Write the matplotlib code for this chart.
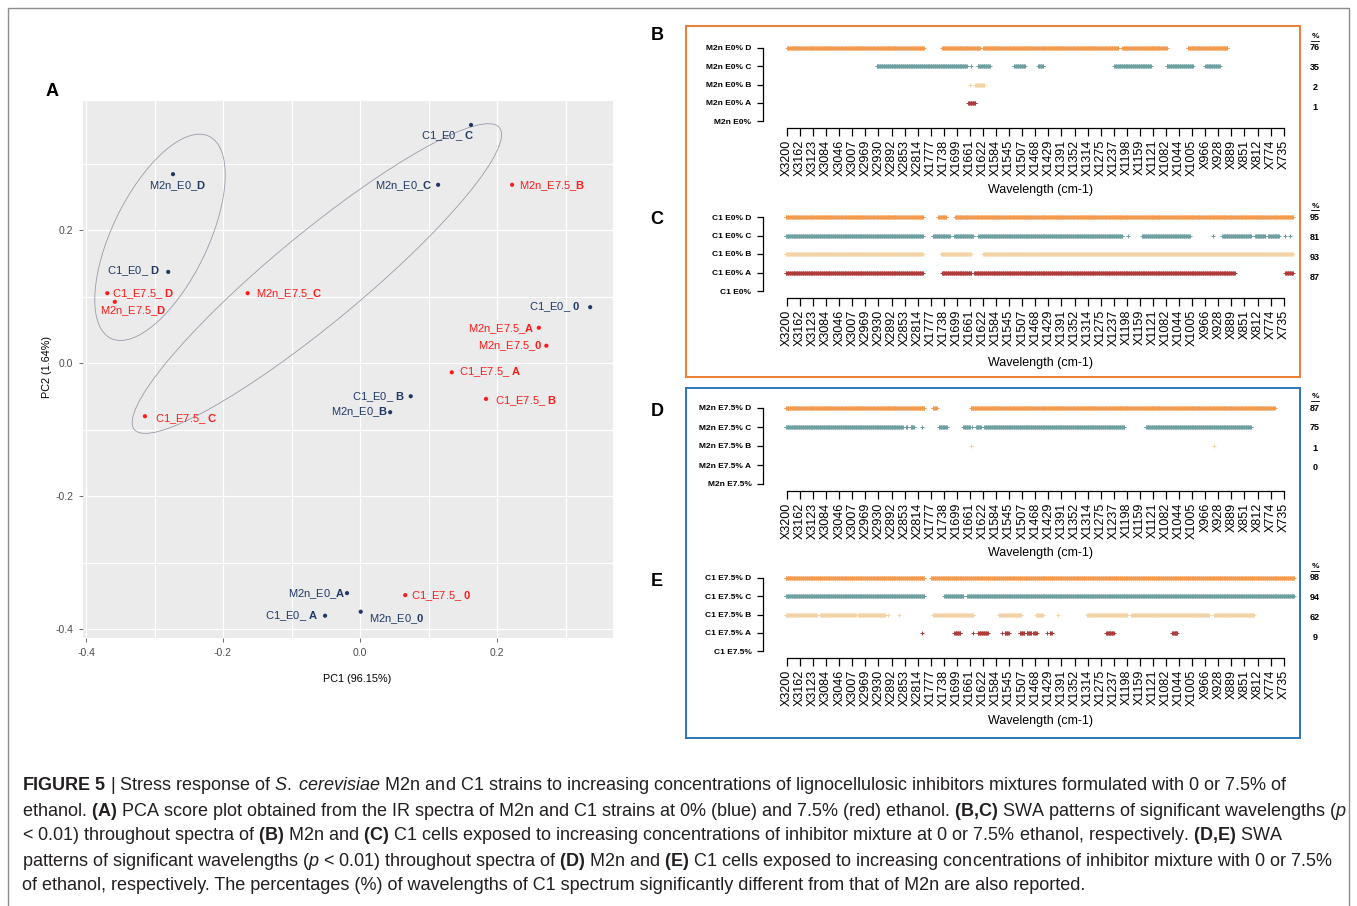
import numpy as np
import matplotlib.pyplot as plt
from matplotlib.patches import Ellipse, Rectangle
from matplotlib.lines import Line2D

plt.rcParams['font.family'] = ['Liberation Sans', 'DejaVu Sans']
plt.rcParams['mathtext.fontset'] = 'custom'
plt.rcParams['mathtext.rm'] = 'Liberation Sans'
plt.rcParams['mathtext.it'] = 'Liberation Sans:italic'
plt.rcParams['mathtext.bf'] = 'Liberation Sans:bold'

W, H = 1357, 906

# ---------------------------------------------------------------------------
# Panel A - PCA scores
# ---------------------------------------------------------------------------
pca_prefix = ['C1_E0_ ', 'M2n_E0_', 'M2n_E0_', 'M2n_E7.5_', 'C1_E0_ ',
              'C1_E7.5_ ', 'M2n_E7.5_', 'M2n_E7.5_', 'C1_E0_ ', 'M2n_E7.5_',
              'M2n_E7.5_', 'C1_E7.5_ ', 'C1_E0_ ', 'C1_E7.5_ ', 'M2n_E0_',
              'C1_E7.5_ ', 'M2n_E0_', 'C1_E7.5_ ', 'C1_E0_ ', 'M2n_E0_']
pca_level = ['C', 'D', 'C', 'B', 'D', 'D', 'D', 'C', '0', 'A',
             '0', 'A', 'B', 'B', 'B', 'C', 'A', '0', 'A', '0']
pca_ethanol = [0, 0, 0, 7.5, 0, 7.5, 7.5, 7.5, 0, 7.5,
               7.5, 7.5, 0, 7.5, 0, 7.5, 0, 7.5, 0, 0]
pc1 = [0.162, -0.273, 0.114, 0.222, -0.280, -0.369, -0.358, -0.164, 0.336, 0.261,
       0.272, 0.134, 0.074, 0.184, 0.044, -0.314, -0.019, 0.066, -0.051, 0.001]
pc2 = [0.358, 0.284, 0.268, 0.268, 0.137, 0.105, 0.092, 0.105, 0.084, 0.053,
       0.026, -0.014, -0.050, -0.054, -0.074, -0.080, -0.346, -0.349, -0.380, -0.374]

# label placement (pixels from the point, up is positive, alignment)
lab_dx = [3, 5, -6, 7, -8, 5, 18, 8, -10, -4, -4, 7, -6, 9, -2, 10, -2, 6, -7, 8]
lab_dy = [-11, -12, -1, -1, 1, -1, -9, -1, 0, -1, 0, 0, -1, -2, 0, -3, -1, -1, 0, -7]
lab_ha = ['right', 'center', 'right', 'left', 'right', 'left', 'center', 'left',
          'right', 'right', 'right', 'left', 'right', 'left', 'right', 'left',
          'right', 'left', 'right', 'left']

# confidence ellipses
ell_cx = [-0.292, -0.063]
ell_cy = [0.189, 0.127]
ell_w = [0.336, 0.700]
ell_h = [0.140, 0.133]
ell_angle = [65, 40.5]

# ---------------------------------------------------------------------------
# Panels B-E - SWA significant wavelengths (segments in tick units, X3200 = 0)
# ---------------------------------------------------------------------------
wl_ticks = ['X3200', 'X3162', 'X3123', 'X3084', 'X3046', 'X3007', 'X2969', 'X2930',
            'X2892', 'X2853', 'X2814', 'X1777', 'X1738', 'X1699', 'X1661', 'X1622',
            'X1584', 'X1545', 'X1507', 'X1468', 'X1429', 'X1391', 'X1352', 'X1314',
            'X1275', 'X1237', 'X1198', 'X1159', 'X1121', 'X1082', 'X1044', 'X1005',
            'X966', 'X928', 'X889', 'X851', 'X812', 'X774', 'X735']
vars_per_tick = 20

B_D = [(0.0, 10.45), (11.87, 14.74), (15.0, 25.37), (25.63, 29.04), (30.67, 33.69)]
B_C = [(6.84, 13.76), (14.1, 14.1), (14.58, 15.49), (17.37, 18.2), (19.18, 19.6),
       (25.04, 27.85), (29.04, 31.05), (32.0, 33.1)]
B_B = [(14.0, 14.0), (14.4, 15.1)]
B_A = [(13.84, 14.4)]
B_pct = [76, 35, 2, 1]

C_D = [(-0.1, 10.42), (11.53, 12.19), (12.83, 38.7)]
C_C = [(-0.1, 10.42), (11.15, 12.44), (12.78, 14.26), (14.65, 25.66), (26.1, 26.1),
       (27.16, 30.79), (32.58, 32.58), (33.31, 35.5), (35.8, 36.6), (36.8, 37.65),
       (38.1, 38.1), (38.5, 38.5)]
C_B = [(-0.1, 10.42), (11.79, 14.12), (14.98, 38.7)]
C_A = [(-0.1, 10.42), (11.87, 14.12), (14.31, 34.27), (38.1, 38.7)]
C_pct = [95, 81, 93, 87]

D_D = [(-0.1, 10.49), (11.14, 11.45), (14.04, 37.3)]
D_C = [(-0.1, 8.86), (9.1, 9.2), (9.46, 9.71), (10.36, 10.36), (11.58, 12.23),
       (13.52, 13.99), (14.17, 14.17), (14.43, 14.84), (15.08, 25.78), (27.46, 35.49)]
D_B = [(14.12, 14.12), (32.64, 32.64)]
D_A = []
D_pct = [87, 75, 1, 0]

E_D = [(-0.1, 10.49), (11.01, 38.8)]
E_C = [(-0.1, 10.49), (12.05, 13.52), (13.8, 38.8)]
E_B = [(-0.1, 2.2), (2.28, 2.28), (2.54, 5.23), (5.44, 7.51), (7.72, 7.72), (8.55, 8.55),
       (11.14, 14.25), (16.2, 17.88), (19.04, 19.56), (20.7, 20.7), (22.93, 26.04),
       (26.37, 32.3), (32.7, 35.7)]
E_A = [(10.36, 10.36), (12.82, 13.26), (14.25, 14.25), (14.59, 15.34), (16.45, 16.45),
       (16.63, 16.97), (17.82, 18.13), (18.34, 18.7), (18.86, 19.12), (19.9, 19.9),
       (20.08, 20.26), (24.4, 25.0), (29.45, 29.84)]
E_pct = [98, 94, 62, 9]

caption = [
    r"$\mathbf{FIGURE\ 5}$ | Stress response of $\mathit{S.\;cerevisiae}$ M2n and C1 strains to increasing concentrations of lignocellulosic inhibitors mixtures formulated with 0 or 7.5% of",
    r"ethanol. $\mathbf{(A)}$ PCA score plot obtained from the IR spectra of M2n and C1 strains at 0% (blue) and 7.5% (red) ethanol. $\mathbf{(B,\!C)}$ SWA patterns of significant wavelengths ($\mathit{p}$",
    r"< 0.01) throughout spectra of $\mathbf{(B)}$ M2n and $\mathbf{(C)}$ C1 cells exposed to increasing concentrations of inhibitor mixture at 0 or 7.5% ethanol, respectively. $\mathbf{(D,\!E)}$ SWA",
    r"patterns of significant wavelengths ($\mathit{p}$ < 0.01) throughout spectra of $\mathbf{(D)}$ M2n and $\mathbf{(E)}$ C1 cells exposed to increasing concentrations of inhibitor mixture with 0 or 7.5%",
    "of ethanol, respectively. The percentages (%) of wavelengths of C1 spectrum significantly different from that of M2n are also reported.",
]


def fig_rect(l, t, r, b):
    return [l / W, 1 - b / H, (r - l) / W, (b - t) / H]


def fy(y):
    return 1 - y / H


fig = plt.figure(figsize=(W / 100, H / 100), dpi=100)

# outer frame
fig.add_artist(Rectangle((8 / W, fy(912)), (1349 - 8) / W, (912 - 8) / H,
                         transform=fig.transFigure, fill=False, ec='#8C8C8C', lw=1))

# ============================================================================
# Panel A
# ============================================================================
axA = fig.add_axes(fig_rect(83, 101, 613, 638))
axA.set_facecolor('#EBEBEB')
axA.set_xlim(-0.4044, 0.3693)
axA.set_ylim(-0.4135, 0.394)
axA.set_xticks([-0.4, -0.2, 0.0, 0.2])
axA.set_xticklabels(['-0.4', '-0.2', '0.0', '0.2'])
axA.set_xticks([-0.3, -0.1, 0.1, 0.3], minor=True)
axA.set_yticks([-0.4, -0.2, 0.0, 0.2])
axA.set_yticklabels(['-0.4', '-0.2', '0.0', '0.2'])
axA.set_yticks([-0.3, -0.1, 0.1, 0.3], minor=True)
axA.grid(which='both', color='white', lw=0.9)
axA.set_axisbelow(True)
for s in axA.spines.values():
    s.set_visible(False)
axA.tick_params(which='major', length=3, width=0.6, color='#555555', labelsize=7.5,
                labelcolor='#4D4D4D', pad=4)
axA.tick_params(which='minor', length=0)

for i in range(2):
    axA.add_patch(Ellipse((ell_cx[i], ell_cy[i]), ell_w[i], ell_h[i], angle=ell_angle[i],
                          fill=False, ec='#9A9AAA', lw=0.6, zorder=2))

group_color = {0: '#1F3864', 7.5: '#FF1A1A'}
cols = [group_color[e] for e in pca_ethanol]
axA.scatter(pc1, pc2, s=9, c=cols, linewidths=0, zorder=3)
for i in range(len(pc1)):
    txt = pca_prefix[i] + r'$\mathbf{' + pca_level[i] + '}$'
    axA.annotate(txt, (pc1[i], pc2[i]), xytext=(lab_dx[i], lab_dy[i]),
                 textcoords='offset pixels', ha=lab_ha[i], va='center',
                 fontsize=8, color=cols[i], zorder=4)

fig.text(357 / W, fy(679), 'PC1 (96.15%)', ha='center', va='center', fontsize=7.8)
fig.text(47 / W, fy(367), 'PC2 (1.64%)', ha='center', va='center', fontsize=7.8,
         rotation=90)
fig.text(52 / W, fy(91), 'A', ha='center', va='center', fontsize=13, fontweight='bold')

# ============================================================================
# Panels B-E
# ============================================================================
fig.add_artist(Rectangle((686 / W, fy(377)), (1300 - 686) / W, (377 - 26) / H,
                         transform=fig.transFigure, fill=False, ec='#ED7D31', lw=1.4))
fig.add_artist(Rectangle((686 / W, fy(738)), (1300 - 686) / W, (738 - 388) / H,
                         transform=fig.transFigure, fill=False, ec='#2E75B6', lw=1.4))

row_colors = ['#B03A3A', '#F2D3A6', '#6E9FA1', '#F39A4E']   # A, B, C, D
var_pos = np.arange(-0.1, 38.85, 1.0 / vars_per_tick)
t0_px, tick_px = 787.0, 13.07

panels = [
    ('B', 'M2n E0%', 48, 121, [B_A, B_B, B_C, B_D], B_pct, 190),
    ('C', 'C1 E0%', 217, 291, [C_A, C_B, C_C, C_D], C_pct, 363),
    ('D', 'M2n E7.5%', 408, 484, [D_A, D_B, D_C, D_D], D_pct, 553),
    ('E', 'C1 E7.5%', 578, 651, [E_A, E_B, E_C, E_D], E_pct, 721),
]

for letter, base_name, top_px, base_px, segs_rows, pcts, xlab_y in panels:
    sp = (base_px - top_px) / 4.0
    ax = fig.add_axes(fig_rect(763, top_px - 0.45 * sp, 1300, base_px + 7))
    ax.set_xlim((763 - t0_px) / tick_px, (1300 - t0_px) / tick_px)
    ax.set_ylim(-7.0 / sp, 4.45)
    ax.patch.set_visible(False)

    for k, segs in enumerate(segs_rows):
        mask = np.zeros(len(var_pos), dtype=bool)
        for s, e in segs:
            mask |= (var_pos >= s - 0.026) & (var_pos <= e + 0.026)
        xs = var_pos[mask]
        ax.plot(xs, np.full(len(xs), k + 1.0), '+', color=row_colors[k],
                ms=3.4, mew=0.7, ls='none', clip_on=False)

    for s in ['top', 'right']:
        ax.spines[s].set_visible(False)
    ax.spines['left'].set_bounds(0, 4)
    ax.spines['bottom'].set_bounds(0, len(wl_ticks) - 1)
    ax.spines['left'].set_linewidth(0.9)
    ax.spines['bottom'].set_linewidth(0.9)

    ax.set_yticks([0, 1, 2, 3, 4])
    ax.set_yticklabels([base_name] + [base_name + ' ' + c for c in 'ABCD'],
                       fontsize=6, fontweight='bold')
    ax.set_xticks(np.arange(len(wl_ticks)))
    ax.set_xticklabels(wl_ticks, rotation=90, fontsize=9)
    ax.tick_params(axis='y', length=4.3, width=0.9, pad=4)
    ax.tick_params(axis='x', length=5.8, width=0.9, pad=2.5)

    fig.text(1040 / W, fy(xlab_y), 'Wavelength (cm-1)', ha='center', va='center',
             fontsize=9)
    fig.text(657 / W, fy(top_px - 13 if letter == 'B' else top_px + 3), letter,
             ha='center', va='center', fontsize=13, fontweight='bold')

    # percentages column
    fig.text(1315 / W, fy(top_px - 11), '%', ha='center', va='center', fontsize=6,
             fontweight='bold')
    fig.add_artist(Line2D([1311 / W, 1319 / W], [fy(top_px - 7), fy(top_px - 7)],
                          transform=fig.transFigure, color='black', lw=0.6))
    for i, p in enumerate(pcts):
        fig.text(1315 / W, fy(top_px + 20 * i), str(p), ha='center', va='center',
                 fontsize=6.5, fontweight='bold')

# ============================================================================
# Caption
# ============================================================================
for i, line in enumerate(caption):
    fig.text(22 / W, fy(786 + 25 * i), line, ha='left', va='center', fontsize=13,
             color='#231F20')

fig.savefig('out.png', dpi=100)
